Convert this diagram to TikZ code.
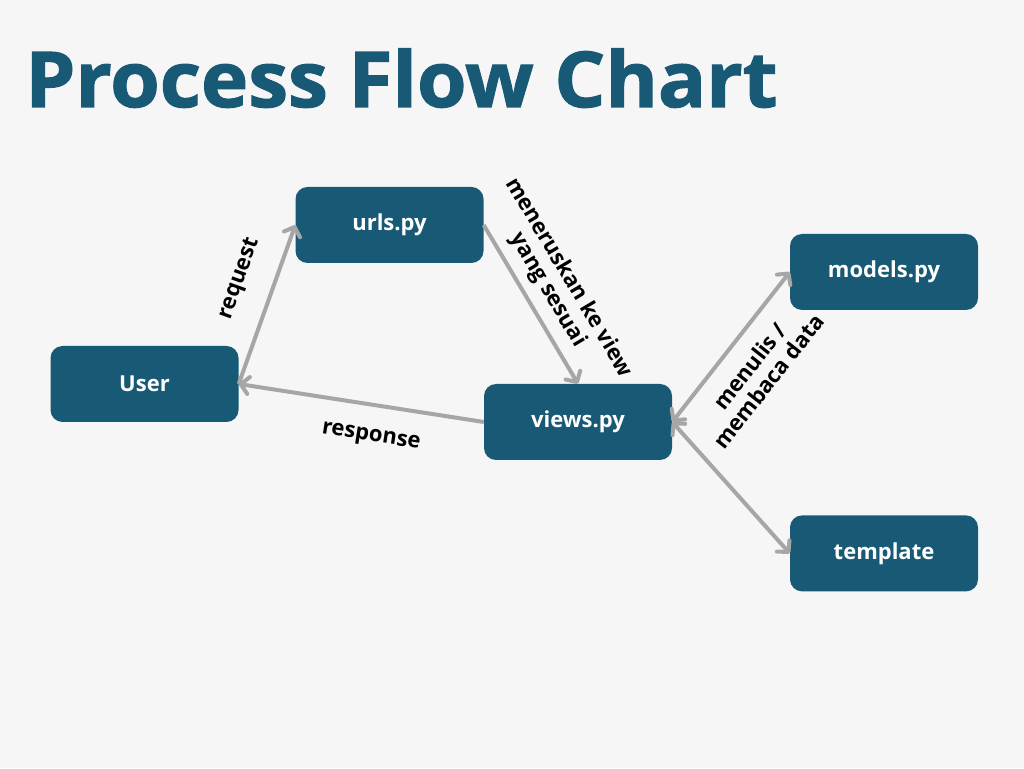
\documentclass[tikz,border=0pt]{standalone}
\usepackage{fontspec}
\setmainfont{Open Sans}
\newfontfamily\titlefont[FakeBold=1.6, FakeStretch=1.04]{Open Sans}
\usepackage{tikz}
\usetikzlibrary{arrows.meta}
\usetikzlibrary{positioning}

\definecolor{boxblue}{HTML}{185A75}
\definecolor{linegray}{HTML}{A6A6A6}
\definecolor{bggray}{HTML}{F6F6F6}

\begin{document}
\begin{tikzpicture}[
	x = 1pt, y = 1pt,
	> = {Straight Barb[length=8pt, width=17pt, round]}, % arrow head style
	auto
	]
	
	\tikzstyle{file}=[
	draw = none,
	fill = boxblue,
	text = white,
	rounded corners = 12pt,
	minimum width = 188pt,
	minimum height = 76pt,
	font = \fontsize{22}{26}\selectfont\bfseries
	]
	\tikzstyle{flow}=[draw = linegray, line width = 4pt]
	\tikzstyle{note}=[font = \fontsize{22}{24}\selectfont\bfseries, inner sep = 0pt, sloped, align = center]
	
	% page
	\fill[bggray] (0,0) rectangle (1024,768);
	\useasboundingbox (0,0) rectangle (1024,768);
	
	\node[anchor=base west, inner sep=0pt, text=boxblue, font=\fontsize{77}{80}\titlefont\bfseries] (title) at (25,661) {Process Flow Chart};
	
	\node[file] (user) at (144.5,384) {User};
	\node[file] (urls) at (389.5,543) {urls.py};
	\node[file] (views) at (578,346) {views.py};
	\node[file] (models) at (884,496) {models.py};
	\node[file] (tmpl) [below=205pt of models] {template};
	
	\path (user.east) edge[flow, ->] node[note, pos=0.59, above=22pt] {request} (urls.west);
	\path (urls.east) edge[flow, ->] node[note, pos=0.48, above=9pt] {meneruskan ke view\\yang sesuai} (views.north);
	\path (views.west) edge[flow, ->] node[note, pos=0.44, below=22pt] {response} (user.east);
	
	\path (views.east) edge[flow, <->] node[note, pos=0.48, below=16pt] {menulis /\\membaca data} (models.west);
	\path (views.east) edge[flow, <->] (tmpl.west);
	
\end{tikzpicture}
\end{document}
